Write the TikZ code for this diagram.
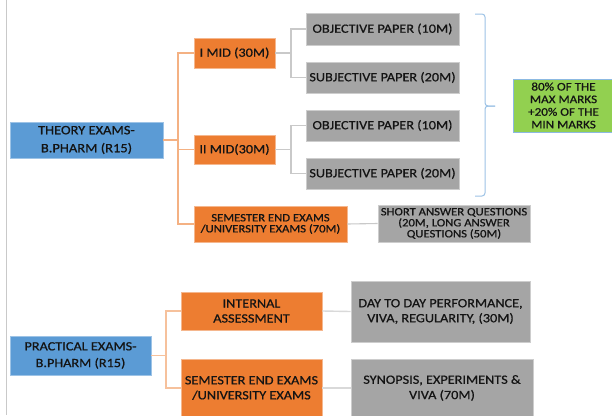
\documentclass[tikz,border=0pt]{standalone}
\usepackage{fontspec}
\setmainfont{Carlito}[FakeStretch=1.13, FakeBold=0.7]
\definecolor{cblue}{HTML}{5B9BD5}
\definecolor{corange}{HTML}{ED7D31}
\definecolor{cgray}{HTML}{A5A5A5}
\definecolor{cgreen}{HTML}{92D050}
\definecolor{clorange}{HTML}{F4B183}
\definecolor{clgray}{HTML}{C9C9C9}
\definecolor{cbrace}{HTML}{9DC3E6}
\definecolor{txt}{HTML}{141414}
\tikzset{
  base/.style={rectangle, inner sep=0pt, align=center, text=txt, line width=0.9pt},
  bluebox/.style={base, fill=cblue, draw=cblue!60!white},
  orangebox/.style={base, fill=corange, draw=corange!55!white},
  graybox/.style={base, fill=cgray, draw=cgray!55!white},
  greenbox/.style={base, fill=cgreen, draw=cblue!70!white},
  oline/.style={draw=clorange, line width=1.1pt},
  pline/.style={draw=clorange!80!white, line width=1.6pt},
  gline/.style={draw=clgray, line width=1.1pt},
  bline/.style={draw=cbrace, line width=1pt, rounded corners=3pt},
  fbig/.style={font=\fontsize{12.6}{15}\selectfont},
  fsmall/.style={font=\fontsize{11.2}{11}\selectfont},
}
\begin{document}
\begin{tikzpicture}[x=1pt, y=-1pt]
\useasboundingbox (0,0) rectangle (612,415);
\fill[white] (0,0) rectangle (612,415);
% left margin line
\coordinate (lt) at (6.5,0);
\coordinate (lb) at (6.5,415);
\draw[gline, line width=1pt] (lt) -- (lb);

% theory part
\node[bluebox, font=\fontsize{12.8}{18}\selectfont, minimum width=153pt, minimum height=36pt] (theory) at (86.5,140) {THEORY EXAMS-\\B.PHARM (R15)};
\node[orangebox, fbig, minimum width=81pt, minimum height=30pt] (imid) at (234.5,53) {I MID (30M)};
\node[orangebox, fbig, minimum width=81pt, minimum height=29pt] (iimid) at (234.5,149.5) {II MID(30M)};
\node[orangebox, fsmall, minimum width=153pt, minimum height=36pt] (semT) at (270.5,224) {SEMESTER END EXAMS\\/UNIVERSITY EXAMS (70M)};
\node[graybox, fbig, minimum width=153pt, minimum height=32pt] (obj1) at (382.5,29) {OBJECTIVE PAPER (10M)};
\node[graybox, fbig, minimum width=153pt, minimum height=31pt] (sub1) at (382.5,77.5) {SUBJECTIVE PAPER (20M)};
\node[graybox, fbig, minimum width=153pt, minimum height=31pt] (obj2) at (382.5,125.5) {OBJECTIVE PAPER (10M)};
\node[graybox, fbig, minimum width=153pt, minimum height=31pt] (sub2) at (382.5,173.5) {SUBJECTIVE PAPER (20M)};
\node[graybox, fsmall, minimum width=152pt, minimum height=37pt] (short) at (454,223.5) {SHORT ANSWER QUESTIONS\\(20M, LONG ANSWER\\QUESTIONS (50M)};
\node[greenbox, font=\fontsize{11.6}{12.6}\selectfont, minimum width=101pt, minimum height=53pt] (green) at (563.5,105.5) {80\% OF THE\\MAX MARKS\\+20\% OF THE\\MIN MARKS};

\coordinate (tj) at (178,140);
\draw[oline] (theory.east) -- (tj);
\draw[oline] (tj) |- (imid.west);
\draw[oline] (tj) |- (iimid.west);
\draw[oline] (tj) |- (semT.west);

\coordinate (j1) at (291,53);
\draw[gline] (imid.east) -- (j1);
\draw[gline] (j1) |- (obj1.west);
\draw[gline] (j1) |- (sub1.west);
\coordinate (j2) at (291,149.5);
\draw[gline] (iimid.east) -- (j2);
\draw[gline] (j2) |- (obj2.west);
\draw[gline] (j2) |- (sub2.west);
\draw[gline] (semT.east) -- (short.west);

% brace
\coordinate (bt) at (475,14);
\coordinate (btc) at (485,14);
\coordinate (bm) at (485,106);
\coordinate (btip) at (495,106);
\coordinate (bbc) at (485,196);
\coordinate (bb) at (475,196);
\draw[bline] (bt) -- (btc) -- (bm) -- (btip);
\draw[bline] (btip) -- (bm) -- (bbc) -- (bb);

% practical part
\node[bluebox, font=\fontsize{12.6}{16.7}\selectfont, minimum width=141pt, minimum height=39pt] (prac) at (80.5,355.5) {PRACTICAL EXAMS-\\B.PHARM (R15)};
\node[orangebox, fbig, minimum width=141pt, minimum height=38pt] (internal) at (251.5,311) {INTERNAL\\ASSESSMENT};
\node[orangebox, fbig, minimum width=141pt, minimum height=58pt] (semP) at (251.5,388) {SEMESTER END EXAMS\\/UNIVERSITY EXAMS};
\node[graybox, fbig, minimum width=179pt, minimum height=61pt] (day) at (440.5,311.5) {DAY TO DAY PERFORMANCE,\\VIVA, REGULARITY, (30M)};
\node[graybox, font=\fontsize{12.6}{15.3}\selectfont, minimum width=182pt, minimum height=58pt] (syn) at (442,388) {SYNOPSIS, EXPERIMENTS \&\\VIVA (70M)};

\coordinate (pj) at (166,355.5);
\draw[pline] (prac.east) -- (pj);
\draw[pline] (pj) |- (internal.west);
\draw[pline] (pj) |- (semP.west);
\draw[gline, draw=clgray!70!white, line width=1.4pt] (internal.east) -- (day.west);
\draw[gline, draw=clgray!70!white, line width=1.4pt] (semP.east) -- (syn.west);
\end{tikzpicture}
\end{document}
